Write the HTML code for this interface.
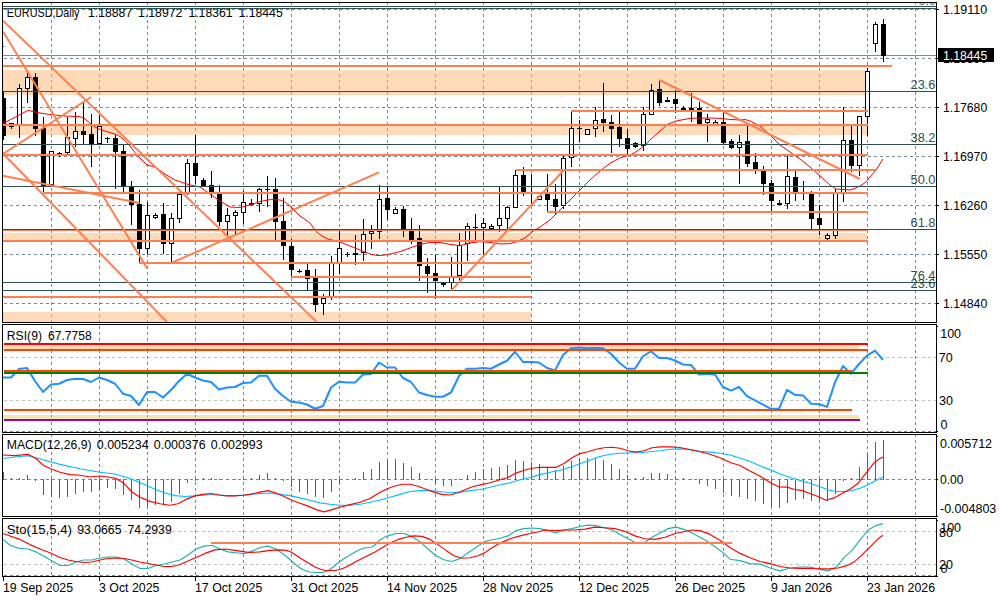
<!DOCTYPE html>
<html><head><meta charset="utf-8"><title>EURUSD Daily</title>
<style>
html,body{margin:0;padding:0;background:#fff;}
body{width:1000px;height:600px;overflow:hidden;}
svg{display:block;}
text{font-family:"Liberation Sans",sans-serif;}
</style></head><body>
<svg width="1000" height="600" viewBox="0 0 1000 600">
<rect width="1000" height="600" fill="#fff"/>
<g shape-rendering="crispEdges">
<rect x="3" y="70" width="862" height="24.5" fill="#FFDAB9" />
<rect x="3" y="126" width="864" height="9" fill="#FFDAB9" />
<rect x="3" y="233" width="864" height="7" fill="#FFDAB9" />
<rect x="3" y="312" width="528" height="10" fill="#FFDAB9" />
<line x1="51.5" y1="3" x2="51.5" y2="322" stroke="#778899" stroke-width="1" stroke-dasharray="3 3" stroke-dashoffset="1"/>
<line x1="51.5" y1="325" x2="51.5" y2="432" stroke="#778899" stroke-width="1" stroke-dasharray="3 3" stroke-dashoffset="5"/>
<line x1="51.5" y1="435" x2="51.5" y2="516" stroke="#778899" stroke-width="1" stroke-dasharray="3 3" stroke-dashoffset="1"/>
<line x1="51.5" y1="519" x2="51.5" y2="576" stroke="#778899" stroke-width="1" stroke-dasharray="3 3" stroke-dashoffset="1"/>
<line x1="99.5" y1="3" x2="99.5" y2="322" stroke="#778899" stroke-width="1" stroke-dasharray="3 3" stroke-dashoffset="1"/>
<line x1="99.5" y1="325" x2="99.5" y2="432" stroke="#778899" stroke-width="1" stroke-dasharray="3 3" stroke-dashoffset="5"/>
<line x1="99.5" y1="435" x2="99.5" y2="516" stroke="#778899" stroke-width="1" stroke-dasharray="3 3" stroke-dashoffset="1"/>
<line x1="99.5" y1="519" x2="99.5" y2="576" stroke="#778899" stroke-width="1" stroke-dasharray="3 3" stroke-dashoffset="1"/>
<line x1="147.5" y1="3" x2="147.5" y2="322" stroke="#778899" stroke-width="1" stroke-dasharray="3 3" stroke-dashoffset="1"/>
<line x1="147.5" y1="325" x2="147.5" y2="432" stroke="#778899" stroke-width="1" stroke-dasharray="3 3" stroke-dashoffset="5"/>
<line x1="147.5" y1="435" x2="147.5" y2="516" stroke="#778899" stroke-width="1" stroke-dasharray="3 3" stroke-dashoffset="1"/>
<line x1="147.5" y1="519" x2="147.5" y2="576" stroke="#778899" stroke-width="1" stroke-dasharray="3 3" stroke-dashoffset="1"/>
<line x1="195.5" y1="3" x2="195.5" y2="322" stroke="#778899" stroke-width="1" stroke-dasharray="3 3" stroke-dashoffset="1"/>
<line x1="195.5" y1="325" x2="195.5" y2="432" stroke="#778899" stroke-width="1" stroke-dasharray="3 3" stroke-dashoffset="5"/>
<line x1="195.5" y1="435" x2="195.5" y2="516" stroke="#778899" stroke-width="1" stroke-dasharray="3 3" stroke-dashoffset="1"/>
<line x1="195.5" y1="519" x2="195.5" y2="576" stroke="#778899" stroke-width="1" stroke-dasharray="3 3" stroke-dashoffset="1"/>
<line x1="243.5" y1="3" x2="243.5" y2="322" stroke="#778899" stroke-width="1" stroke-dasharray="3 3" stroke-dashoffset="1"/>
<line x1="243.5" y1="325" x2="243.5" y2="432" stroke="#778899" stroke-width="1" stroke-dasharray="3 3" stroke-dashoffset="5"/>
<line x1="243.5" y1="435" x2="243.5" y2="516" stroke="#778899" stroke-width="1" stroke-dasharray="3 3" stroke-dashoffset="1"/>
<line x1="243.5" y1="519" x2="243.5" y2="576" stroke="#778899" stroke-width="1" stroke-dasharray="3 3" stroke-dashoffset="1"/>
<line x1="291.5" y1="3" x2="291.5" y2="322" stroke="#778899" stroke-width="1" stroke-dasharray="3 3" stroke-dashoffset="1"/>
<line x1="291.5" y1="325" x2="291.5" y2="432" stroke="#778899" stroke-width="1" stroke-dasharray="3 3" stroke-dashoffset="5"/>
<line x1="291.5" y1="435" x2="291.5" y2="516" stroke="#778899" stroke-width="1" stroke-dasharray="3 3" stroke-dashoffset="1"/>
<line x1="291.5" y1="519" x2="291.5" y2="576" stroke="#778899" stroke-width="1" stroke-dasharray="3 3" stroke-dashoffset="1"/>
<line x1="339.5" y1="3" x2="339.5" y2="322" stroke="#778899" stroke-width="1" stroke-dasharray="3 3" stroke-dashoffset="1"/>
<line x1="339.5" y1="325" x2="339.5" y2="432" stroke="#778899" stroke-width="1" stroke-dasharray="3 3" stroke-dashoffset="5"/>
<line x1="339.5" y1="435" x2="339.5" y2="516" stroke="#778899" stroke-width="1" stroke-dasharray="3 3" stroke-dashoffset="1"/>
<line x1="339.5" y1="519" x2="339.5" y2="576" stroke="#778899" stroke-width="1" stroke-dasharray="3 3" stroke-dashoffset="1"/>
<line x1="387.5" y1="3" x2="387.5" y2="322" stroke="#778899" stroke-width="1" stroke-dasharray="3 3" stroke-dashoffset="1"/>
<line x1="387.5" y1="325" x2="387.5" y2="432" stroke="#778899" stroke-width="1" stroke-dasharray="3 3" stroke-dashoffset="5"/>
<line x1="387.5" y1="435" x2="387.5" y2="516" stroke="#778899" stroke-width="1" stroke-dasharray="3 3" stroke-dashoffset="1"/>
<line x1="387.5" y1="519" x2="387.5" y2="576" stroke="#778899" stroke-width="1" stroke-dasharray="3 3" stroke-dashoffset="1"/>
<line x1="435.5" y1="3" x2="435.5" y2="322" stroke="#778899" stroke-width="1" stroke-dasharray="3 3" stroke-dashoffset="1"/>
<line x1="435.5" y1="325" x2="435.5" y2="432" stroke="#778899" stroke-width="1" stroke-dasharray="3 3" stroke-dashoffset="5"/>
<line x1="435.5" y1="435" x2="435.5" y2="516" stroke="#778899" stroke-width="1" stroke-dasharray="3 3" stroke-dashoffset="1"/>
<line x1="435.5" y1="519" x2="435.5" y2="576" stroke="#778899" stroke-width="1" stroke-dasharray="3 3" stroke-dashoffset="1"/>
<line x1="483.5" y1="3" x2="483.5" y2="322" stroke="#778899" stroke-width="1" stroke-dasharray="3 3" stroke-dashoffset="1"/>
<line x1="483.5" y1="325" x2="483.5" y2="432" stroke="#778899" stroke-width="1" stroke-dasharray="3 3" stroke-dashoffset="5"/>
<line x1="483.5" y1="435" x2="483.5" y2="516" stroke="#778899" stroke-width="1" stroke-dasharray="3 3" stroke-dashoffset="1"/>
<line x1="483.5" y1="519" x2="483.5" y2="576" stroke="#778899" stroke-width="1" stroke-dasharray="3 3" stroke-dashoffset="1"/>
<line x1="531.5" y1="3" x2="531.5" y2="322" stroke="#778899" stroke-width="1" stroke-dasharray="3 3" stroke-dashoffset="1"/>
<line x1="531.5" y1="325" x2="531.5" y2="432" stroke="#778899" stroke-width="1" stroke-dasharray="3 3" stroke-dashoffset="5"/>
<line x1="531.5" y1="435" x2="531.5" y2="516" stroke="#778899" stroke-width="1" stroke-dasharray="3 3" stroke-dashoffset="1"/>
<line x1="531.5" y1="519" x2="531.5" y2="576" stroke="#778899" stroke-width="1" stroke-dasharray="3 3" stroke-dashoffset="1"/>
<line x1="579.5" y1="3" x2="579.5" y2="322" stroke="#778899" stroke-width="1" stroke-dasharray="3 3" stroke-dashoffset="1"/>
<line x1="579.5" y1="325" x2="579.5" y2="432" stroke="#778899" stroke-width="1" stroke-dasharray="3 3" stroke-dashoffset="5"/>
<line x1="579.5" y1="435" x2="579.5" y2="516" stroke="#778899" stroke-width="1" stroke-dasharray="3 3" stroke-dashoffset="1"/>
<line x1="579.5" y1="519" x2="579.5" y2="576" stroke="#778899" stroke-width="1" stroke-dasharray="3 3" stroke-dashoffset="1"/>
<line x1="627.5" y1="3" x2="627.5" y2="322" stroke="#778899" stroke-width="1" stroke-dasharray="3 3" stroke-dashoffset="1"/>
<line x1="627.5" y1="325" x2="627.5" y2="432" stroke="#778899" stroke-width="1" stroke-dasharray="3 3" stroke-dashoffset="5"/>
<line x1="627.5" y1="435" x2="627.5" y2="516" stroke="#778899" stroke-width="1" stroke-dasharray="3 3" stroke-dashoffset="1"/>
<line x1="627.5" y1="519" x2="627.5" y2="576" stroke="#778899" stroke-width="1" stroke-dasharray="3 3" stroke-dashoffset="1"/>
<line x1="675.5" y1="3" x2="675.5" y2="322" stroke="#778899" stroke-width="1" stroke-dasharray="3 3" stroke-dashoffset="1"/>
<line x1="675.5" y1="325" x2="675.5" y2="432" stroke="#778899" stroke-width="1" stroke-dasharray="3 3" stroke-dashoffset="5"/>
<line x1="675.5" y1="435" x2="675.5" y2="516" stroke="#778899" stroke-width="1" stroke-dasharray="3 3" stroke-dashoffset="1"/>
<line x1="675.5" y1="519" x2="675.5" y2="576" stroke="#778899" stroke-width="1" stroke-dasharray="3 3" stroke-dashoffset="1"/>
<line x1="723.5" y1="3" x2="723.5" y2="322" stroke="#778899" stroke-width="1" stroke-dasharray="3 3" stroke-dashoffset="1"/>
<line x1="723.5" y1="325" x2="723.5" y2="432" stroke="#778899" stroke-width="1" stroke-dasharray="3 3" stroke-dashoffset="5"/>
<line x1="723.5" y1="435" x2="723.5" y2="516" stroke="#778899" stroke-width="1" stroke-dasharray="3 3" stroke-dashoffset="1"/>
<line x1="723.5" y1="519" x2="723.5" y2="576" stroke="#778899" stroke-width="1" stroke-dasharray="3 3" stroke-dashoffset="1"/>
<line x1="771.5" y1="3" x2="771.5" y2="322" stroke="#778899" stroke-width="1" stroke-dasharray="3 3" stroke-dashoffset="1"/>
<line x1="771.5" y1="325" x2="771.5" y2="432" stroke="#778899" stroke-width="1" stroke-dasharray="3 3" stroke-dashoffset="5"/>
<line x1="771.5" y1="435" x2="771.5" y2="516" stroke="#778899" stroke-width="1" stroke-dasharray="3 3" stroke-dashoffset="1"/>
<line x1="771.5" y1="519" x2="771.5" y2="576" stroke="#778899" stroke-width="1" stroke-dasharray="3 3" stroke-dashoffset="1"/>
<line x1="819.5" y1="3" x2="819.5" y2="322" stroke="#778899" stroke-width="1" stroke-dasharray="3 3" stroke-dashoffset="1"/>
<line x1="819.5" y1="325" x2="819.5" y2="432" stroke="#778899" stroke-width="1" stroke-dasharray="3 3" stroke-dashoffset="5"/>
<line x1="819.5" y1="435" x2="819.5" y2="516" stroke="#778899" stroke-width="1" stroke-dasharray="3 3" stroke-dashoffset="1"/>
<line x1="819.5" y1="519" x2="819.5" y2="576" stroke="#778899" stroke-width="1" stroke-dasharray="3 3" stroke-dashoffset="1"/>
<line x1="867.5" y1="3" x2="867.5" y2="322" stroke="#778899" stroke-width="1" stroke-dasharray="3 3" stroke-dashoffset="1"/>
<line x1="867.5" y1="325" x2="867.5" y2="432" stroke="#778899" stroke-width="1" stroke-dasharray="3 3" stroke-dashoffset="5"/>
<line x1="867.5" y1="435" x2="867.5" y2="516" stroke="#778899" stroke-width="1" stroke-dasharray="3 3" stroke-dashoffset="1"/>
<line x1="867.5" y1="519" x2="867.5" y2="576" stroke="#778899" stroke-width="1" stroke-dasharray="3 3" stroke-dashoffset="1"/>
<line x1="915.5" y1="3" x2="915.5" y2="322" stroke="#778899" stroke-width="1" stroke-dasharray="3 3" stroke-dashoffset="1"/>
<line x1="915.5" y1="325" x2="915.5" y2="432" stroke="#778899" stroke-width="1" stroke-dasharray="3 3" stroke-dashoffset="5"/>
<line x1="915.5" y1="435" x2="915.5" y2="516" stroke="#778899" stroke-width="1" stroke-dasharray="3 3" stroke-dashoffset="1"/>
<line x1="915.5" y1="519" x2="915.5" y2="576" stroke="#778899" stroke-width="1" stroke-dasharray="3 3" stroke-dashoffset="1"/>
<line x1="3" y1="9.5" x2="936" y2="9.5" stroke="#778899" stroke-width="1" stroke-dasharray="3 3" stroke-dashoffset="5"/>
<line x1="3" y1="58.5" x2="936" y2="58.5" stroke="#778899" stroke-width="1" stroke-dasharray="3 3" stroke-dashoffset="5"/>
<line x1="3" y1="107.5" x2="936" y2="107.5" stroke="#778899" stroke-width="1" stroke-dasharray="3 3" stroke-dashoffset="5"/>
<line x1="3" y1="156.5" x2="936" y2="156.5" stroke="#778899" stroke-width="1" stroke-dasharray="3 3" stroke-dashoffset="5"/>
<line x1="3" y1="205.5" x2="936" y2="205.5" stroke="#778899" stroke-width="1" stroke-dasharray="3 3" stroke-dashoffset="5"/>
<line x1="3" y1="254.5" x2="936" y2="254.5" stroke="#778899" stroke-width="1" stroke-dasharray="3 3" stroke-dashoffset="5"/>
<line x1="3" y1="303.5" x2="936" y2="303.5" stroke="#778899" stroke-width="1" stroke-dasharray="3 3" stroke-dashoffset="5"/>
<line x1="51.5" y1="70" x2="51.5" y2="95" stroke="#77ADDF" stroke-width="1" stroke-dasharray="3 3" stroke-dashoffset="2"/>
<line x1="51.5" y1="126" x2="51.5" y2="135" stroke="#77ADDF" stroke-width="1" stroke-dasharray="3 3" stroke-dashoffset="4"/>
<line x1="51.5" y1="233" x2="51.5" y2="240" stroke="#77ADDF" stroke-width="1" stroke-dasharray="3 3" stroke-dashoffset="3"/>
<line x1="51.5" y1="312" x2="51.5" y2="322" stroke="#77ADDF" stroke-width="1" stroke-dasharray="3 3" stroke-dashoffset="4"/>
<line x1="99.5" y1="70" x2="99.5" y2="95" stroke="#77ADDF" stroke-width="1" stroke-dasharray="3 3" stroke-dashoffset="2"/>
<line x1="99.5" y1="126" x2="99.5" y2="135" stroke="#77ADDF" stroke-width="1" stroke-dasharray="3 3" stroke-dashoffset="4"/>
<line x1="99.5" y1="233" x2="99.5" y2="240" stroke="#77ADDF" stroke-width="1" stroke-dasharray="3 3" stroke-dashoffset="3"/>
<line x1="99.5" y1="312" x2="99.5" y2="322" stroke="#77ADDF" stroke-width="1" stroke-dasharray="3 3" stroke-dashoffset="4"/>
<line x1="147.5" y1="70" x2="147.5" y2="95" stroke="#77ADDF" stroke-width="1" stroke-dasharray="3 3" stroke-dashoffset="2"/>
<line x1="147.5" y1="126" x2="147.5" y2="135" stroke="#77ADDF" stroke-width="1" stroke-dasharray="3 3" stroke-dashoffset="4"/>
<line x1="147.5" y1="233" x2="147.5" y2="240" stroke="#77ADDF" stroke-width="1" stroke-dasharray="3 3" stroke-dashoffset="3"/>
<line x1="147.5" y1="312" x2="147.5" y2="322" stroke="#77ADDF" stroke-width="1" stroke-dasharray="3 3" stroke-dashoffset="4"/>
<line x1="195.5" y1="70" x2="195.5" y2="95" stroke="#77ADDF" stroke-width="1" stroke-dasharray="3 3" stroke-dashoffset="2"/>
<line x1="195.5" y1="126" x2="195.5" y2="135" stroke="#77ADDF" stroke-width="1" stroke-dasharray="3 3" stroke-dashoffset="4"/>
<line x1="195.5" y1="233" x2="195.5" y2="240" stroke="#77ADDF" stroke-width="1" stroke-dasharray="3 3" stroke-dashoffset="3"/>
<line x1="195.5" y1="312" x2="195.5" y2="322" stroke="#77ADDF" stroke-width="1" stroke-dasharray="3 3" stroke-dashoffset="4"/>
<line x1="243.5" y1="70" x2="243.5" y2="95" stroke="#77ADDF" stroke-width="1" stroke-dasharray="3 3" stroke-dashoffset="2"/>
<line x1="243.5" y1="126" x2="243.5" y2="135" stroke="#77ADDF" stroke-width="1" stroke-dasharray="3 3" stroke-dashoffset="4"/>
<line x1="243.5" y1="233" x2="243.5" y2="240" stroke="#77ADDF" stroke-width="1" stroke-dasharray="3 3" stroke-dashoffset="3"/>
<line x1="243.5" y1="312" x2="243.5" y2="322" stroke="#77ADDF" stroke-width="1" stroke-dasharray="3 3" stroke-dashoffset="4"/>
<line x1="291.5" y1="70" x2="291.5" y2="95" stroke="#77ADDF" stroke-width="1" stroke-dasharray="3 3" stroke-dashoffset="2"/>
<line x1="291.5" y1="126" x2="291.5" y2="135" stroke="#77ADDF" stroke-width="1" stroke-dasharray="3 3" stroke-dashoffset="4"/>
<line x1="291.5" y1="233" x2="291.5" y2="240" stroke="#77ADDF" stroke-width="1" stroke-dasharray="3 3" stroke-dashoffset="3"/>
<line x1="291.5" y1="312" x2="291.5" y2="322" stroke="#77ADDF" stroke-width="1" stroke-dasharray="3 3" stroke-dashoffset="4"/>
<line x1="339.5" y1="70" x2="339.5" y2="95" stroke="#77ADDF" stroke-width="1" stroke-dasharray="3 3" stroke-dashoffset="2"/>
<line x1="339.5" y1="126" x2="339.5" y2="135" stroke="#77ADDF" stroke-width="1" stroke-dasharray="3 3" stroke-dashoffset="4"/>
<line x1="339.5" y1="233" x2="339.5" y2="240" stroke="#77ADDF" stroke-width="1" stroke-dasharray="3 3" stroke-dashoffset="3"/>
<line x1="339.5" y1="312" x2="339.5" y2="322" stroke="#77ADDF" stroke-width="1" stroke-dasharray="3 3" stroke-dashoffset="4"/>
<line x1="387.5" y1="70" x2="387.5" y2="95" stroke="#77ADDF" stroke-width="1" stroke-dasharray="3 3" stroke-dashoffset="2"/>
<line x1="387.5" y1="126" x2="387.5" y2="135" stroke="#77ADDF" stroke-width="1" stroke-dasharray="3 3" stroke-dashoffset="4"/>
<line x1="387.5" y1="233" x2="387.5" y2="240" stroke="#77ADDF" stroke-width="1" stroke-dasharray="3 3" stroke-dashoffset="3"/>
<line x1="387.5" y1="312" x2="387.5" y2="322" stroke="#77ADDF" stroke-width="1" stroke-dasharray="3 3" stroke-dashoffset="4"/>
<line x1="435.5" y1="70" x2="435.5" y2="95" stroke="#77ADDF" stroke-width="1" stroke-dasharray="3 3" stroke-dashoffset="2"/>
<line x1="435.5" y1="126" x2="435.5" y2="135" stroke="#77ADDF" stroke-width="1" stroke-dasharray="3 3" stroke-dashoffset="4"/>
<line x1="435.5" y1="233" x2="435.5" y2="240" stroke="#77ADDF" stroke-width="1" stroke-dasharray="3 3" stroke-dashoffset="3"/>
<line x1="435.5" y1="312" x2="435.5" y2="322" stroke="#77ADDF" stroke-width="1" stroke-dasharray="3 3" stroke-dashoffset="4"/>
<line x1="483.5" y1="70" x2="483.5" y2="95" stroke="#77ADDF" stroke-width="1" stroke-dasharray="3 3" stroke-dashoffset="2"/>
<line x1="483.5" y1="126" x2="483.5" y2="135" stroke="#77ADDF" stroke-width="1" stroke-dasharray="3 3" stroke-dashoffset="4"/>
<line x1="483.5" y1="233" x2="483.5" y2="240" stroke="#77ADDF" stroke-width="1" stroke-dasharray="3 3" stroke-dashoffset="3"/>
<line x1="483.5" y1="312" x2="483.5" y2="322" stroke="#77ADDF" stroke-width="1" stroke-dasharray="3 3" stroke-dashoffset="4"/>
<line x1="531.5" y1="70" x2="531.5" y2="95" stroke="#77ADDF" stroke-width="1" stroke-dasharray="3 3" stroke-dashoffset="2"/>
<line x1="531.5" y1="126" x2="531.5" y2="135" stroke="#77ADDF" stroke-width="1" stroke-dasharray="3 3" stroke-dashoffset="4"/>
<line x1="531.5" y1="233" x2="531.5" y2="240" stroke="#77ADDF" stroke-width="1" stroke-dasharray="3 3" stroke-dashoffset="3"/>
<line x1="579.5" y1="70" x2="579.5" y2="95" stroke="#77ADDF" stroke-width="1" stroke-dasharray="3 3" stroke-dashoffset="2"/>
<line x1="579.5" y1="126" x2="579.5" y2="135" stroke="#77ADDF" stroke-width="1" stroke-dasharray="3 3" stroke-dashoffset="4"/>
<line x1="579.5" y1="233" x2="579.5" y2="240" stroke="#77ADDF" stroke-width="1" stroke-dasharray="3 3" stroke-dashoffset="3"/>
<line x1="627.5" y1="70" x2="627.5" y2="95" stroke="#77ADDF" stroke-width="1" stroke-dasharray="3 3" stroke-dashoffset="2"/>
<line x1="627.5" y1="126" x2="627.5" y2="135" stroke="#77ADDF" stroke-width="1" stroke-dasharray="3 3" stroke-dashoffset="4"/>
<line x1="627.5" y1="233" x2="627.5" y2="240" stroke="#77ADDF" stroke-width="1" stroke-dasharray="3 3" stroke-dashoffset="3"/>
<line x1="675.5" y1="70" x2="675.5" y2="95" stroke="#77ADDF" stroke-width="1" stroke-dasharray="3 3" stroke-dashoffset="2"/>
<line x1="675.5" y1="126" x2="675.5" y2="135" stroke="#77ADDF" stroke-width="1" stroke-dasharray="3 3" stroke-dashoffset="4"/>
<line x1="675.5" y1="233" x2="675.5" y2="240" stroke="#77ADDF" stroke-width="1" stroke-dasharray="3 3" stroke-dashoffset="3"/>
<line x1="723.5" y1="70" x2="723.5" y2="95" stroke="#77ADDF" stroke-width="1" stroke-dasharray="3 3" stroke-dashoffset="2"/>
<line x1="723.5" y1="126" x2="723.5" y2="135" stroke="#77ADDF" stroke-width="1" stroke-dasharray="3 3" stroke-dashoffset="4"/>
<line x1="723.5" y1="233" x2="723.5" y2="240" stroke="#77ADDF" stroke-width="1" stroke-dasharray="3 3" stroke-dashoffset="3"/>
<line x1="771.5" y1="70" x2="771.5" y2="95" stroke="#77ADDF" stroke-width="1" stroke-dasharray="3 3" stroke-dashoffset="2"/>
<line x1="771.5" y1="126" x2="771.5" y2="135" stroke="#77ADDF" stroke-width="1" stroke-dasharray="3 3" stroke-dashoffset="4"/>
<line x1="771.5" y1="233" x2="771.5" y2="240" stroke="#77ADDF" stroke-width="1" stroke-dasharray="3 3" stroke-dashoffset="3"/>
<line x1="819.5" y1="70" x2="819.5" y2="95" stroke="#77ADDF" stroke-width="1" stroke-dasharray="3 3" stroke-dashoffset="2"/>
<line x1="819.5" y1="126" x2="819.5" y2="135" stroke="#77ADDF" stroke-width="1" stroke-dasharray="3 3" stroke-dashoffset="4"/>
<line x1="819.5" y1="233" x2="819.5" y2="240" stroke="#77ADDF" stroke-width="1" stroke-dasharray="3 3" stroke-dashoffset="3"/>
<rect x="3" y="55" width="933" height="1" fill="#7B8DA0" />
<clipPath id="cm"><rect x="3" y="3" width="934" height="319"/></clipPath><g clip-path="url(#cm)">
<rect x="3" y="92" width="1" height="48" fill="#000" />
<rect x="1" y="98" width="5" height="38" fill="#000" />
<rect x="11" y="123" width="1" height="6" fill="#000" />
<rect x="9" y="123" width="5" height="4" fill="#000" />
<rect x="10" y="124" width="3" height="2" fill="#fff" />
<rect x="19" y="84" width="1" height="54" fill="#000" />
<rect x="17" y="88" width="5" height="38" fill="#000" />
<rect x="18" y="89" width="3" height="36" fill="#fff" />
<rect x="27" y="73" width="1" height="30" fill="#000" />
<rect x="25" y="77" width="5" height="12" fill="#000" />
<rect x="26" y="78" width="3" height="10" fill="#fff" />
<rect x="35" y="73" width="1" height="63" fill="#000" />
<rect x="33" y="77" width="5" height="52" fill="#000" />
<rect x="43" y="117" width="1" height="75" fill="#000" />
<rect x="41" y="128" width="5" height="58" fill="#000" />
<rect x="51" y="151" width="1" height="35" fill="#000" />
<rect x="49" y="151" width="5" height="34" fill="#000" />
<rect x="50" y="152" width="3" height="32" fill="#fff" />
<rect x="59" y="152" width="1" height="5" fill="#000" />
<rect x="57" y="153" width="5" height="2" fill="#000" />
<rect x="67" y="117" width="1" height="37" fill="#000" />
<rect x="65" y="137" width="5" height="16" fill="#000" />
<rect x="66" y="138" width="3" height="14" fill="#fff" />
<rect x="75" y="112" width="1" height="35" fill="#000" />
<rect x="73" y="131" width="5" height="8" fill="#000" />
<rect x="74" y="132" width="3" height="6" fill="#fff" />
<rect x="83" y="103" width="1" height="41" fill="#000" />
<rect x="81" y="131" width="5" height="4" fill="#000" />
<rect x="91" y="114" width="1" height="53" fill="#000" />
<rect x="89" y="134" width="5" height="10" fill="#000" />
<rect x="99" y="115" width="1" height="30" fill="#000" />
<rect x="97" y="126" width="5" height="18" fill="#000" />
<rect x="98" y="127" width="3" height="16" fill="#fff" />
<rect x="107" y="137" width="1" height="6" fill="#000" />
<rect x="105" y="138" width="5" height="1" fill="#000" />
<rect x="115" y="134" width="1" height="55" fill="#000" />
<rect x="113" y="138" width="5" height="14" fill="#000" />
<rect x="123" y="145" width="1" height="47" fill="#000" />
<rect x="121" y="151" width="5" height="36" fill="#000" />
<rect x="131" y="181" width="1" height="44" fill="#000" />
<rect x="129" y="187" width="5" height="18" fill="#000" />
<rect x="139" y="190" width="1" height="72" fill="#000" />
<rect x="137" y="204" width="5" height="45" fill="#000" />
<rect x="147" y="202" width="1" height="52" fill="#000" />
<rect x="145" y="215" width="5" height="34" fill="#000" />
<rect x="146" y="216" width="3" height="32" fill="#fff" />
<rect x="155" y="213" width="1" height="6" fill="#000" />
<rect x="153" y="215" width="5" height="3" fill="#000" />
<rect x="154" y="216" width="3" height="1" fill="#fff" />
<rect x="163" y="203" width="1" height="51" fill="#000" />
<rect x="161" y="214" width="5" height="30" fill="#000" />
<rect x="171" y="213" width="1" height="50" fill="#000" />
<rect x="169" y="218" width="5" height="26" fill="#000" />
<rect x="170" y="219" width="3" height="24" fill="#fff" />
<rect x="179" y="193" width="1" height="30" fill="#000" />
<rect x="177" y="194" width="5" height="25" fill="#000" />
<rect x="178" y="195" width="3" height="23" fill="#fff" />
<rect x="187" y="159" width="1" height="36" fill="#000" />
<rect x="185" y="163" width="5" height="30" fill="#000" />
<rect x="186" y="164" width="3" height="28" fill="#fff" />
<rect x="195" y="135" width="1" height="49" fill="#000" />
<rect x="193" y="163" width="5" height="13" fill="#000" />
<rect x="203" y="178" width="1" height="8" fill="#000" />
<rect x="201" y="180" width="5" height="6" fill="#000" />
<rect x="211" y="171" width="1" height="27" fill="#000" />
<rect x="209" y="185" width="5" height="7" fill="#000" />
<rect x="219" y="185" width="1" height="41" fill="#000" />
<rect x="217" y="194" width="5" height="28" fill="#000" />
<rect x="227" y="208" width="1" height="28" fill="#000" />
<rect x="225" y="215" width="5" height="7" fill="#000" />
<rect x="226" y="216" width="3" height="5" fill="#fff" />
<rect x="235" y="210" width="1" height="24" fill="#000" />
<rect x="233" y="212" width="5" height="4" fill="#000" />
<rect x="234" y="213" width="3" height="2" fill="#fff" />
<rect x="243" y="191" width="1" height="33" fill="#000" />
<rect x="241" y="202" width="5" height="11" fill="#000" />
<rect x="242" y="203" width="3" height="9" fill="#fff" />
<rect x="251" y="199" width="1" height="7" fill="#000" />
<rect x="249" y="203" width="5" height="2" fill="#000" />
<rect x="259" y="188" width="1" height="24" fill="#000" />
<rect x="257" y="189" width="5" height="15" fill="#000" />
<rect x="258" y="190" width="3" height="13" fill="#fff" />
<rect x="267" y="176" width="1" height="31" fill="#000" />
<rect x="265" y="189" width="5" height="1" fill="#000" />
<rect x="275" y="178" width="1" height="62" fill="#000" />
<rect x="273" y="189" width="5" height="33" fill="#000" />
<rect x="283" y="198" width="1" height="62" fill="#000" />
<rect x="281" y="221" width="5" height="25" fill="#000" />
<rect x="291" y="239" width="1" height="38" fill="#000" />
<rect x="289" y="246" width="5" height="24" fill="#000" />
<rect x="299" y="269" width="1" height="4" fill="#000" />
<rect x="297" y="271" width="5" height="1" fill="#000" />
<rect x="307" y="264" width="1" height="26" fill="#000" />
<rect x="305" y="270" width="5" height="9" fill="#000" />
<rect x="315" y="269" width="1" height="43" fill="#000" />
<rect x="313" y="278" width="5" height="27" fill="#000" />
<rect x="323" y="294" width="1" height="21" fill="#000" />
<rect x="321" y="298" width="5" height="6" fill="#000" />
<rect x="322" y="299" width="3" height="4" fill="#fff" />
<rect x="331" y="256" width="1" height="44" fill="#000" />
<rect x="329" y="263" width="5" height="34" fill="#000" />
<rect x="330" y="264" width="3" height="32" fill="#fff" />
<rect x="339" y="230" width="1" height="44" fill="#000" />
<rect x="337" y="248" width="5" height="15" fill="#000" />
<rect x="338" y="249" width="3" height="13" fill="#fff" />
<rect x="347" y="252" width="1" height="5" fill="#000" />
<rect x="345" y="254" width="5" height="1" fill="#000" />
<rect x="355" y="235" width="1" height="30" fill="#000" />
<rect x="353" y="253" width="5" height="2" fill="#000" />
<rect x="363" y="219" width="1" height="42" fill="#000" />
<rect x="361" y="234" width="5" height="19" fill="#000" />
<rect x="362" y="235" width="3" height="17" fill="#fff" />
<rect x="371" y="225" width="1" height="24" fill="#000" />
<rect x="369" y="231" width="5" height="3" fill="#000" />
<rect x="370" y="232" width="3" height="1" fill="#fff" />
<rect x="379" y="185" width="1" height="54" fill="#000" />
<rect x="377" y="199" width="5" height="33" fill="#000" />
<rect x="378" y="200" width="3" height="31" fill="#fff" />
<rect x="387" y="187" width="1" height="33" fill="#000" />
<rect x="385" y="198" width="5" height="12" fill="#000" />
<rect x="395" y="207" width="1" height="7" fill="#000" />
<rect x="393" y="209" width="5" height="5" fill="#000" />
<rect x="394" y="210" width="3" height="3" fill="#fff" />
<rect x="403" y="206" width="1" height="31" fill="#000" />
<rect x="401" y="209" width="5" height="20" fill="#000" />
<rect x="411" y="218" width="1" height="26" fill="#000" />
<rect x="409" y="231" width="5" height="9" fill="#000" />
<rect x="419" y="225" width="1" height="56" fill="#000" />
<rect x="417" y="238" width="5" height="28" fill="#000" />
<rect x="427" y="258" width="1" height="35" fill="#000" />
<rect x="425" y="266" width="5" height="8" fill="#000" />
<rect x="435" y="255" width="1" height="44" fill="#000" />
<rect x="433" y="273" width="5" height="8" fill="#000" />
<rect x="443" y="282" width="1" height="5" fill="#000" />
<rect x="441" y="283" width="5" height="2" fill="#000" />
<rect x="451" y="257" width="1" height="33" fill="#000" />
<rect x="449" y="276" width="5" height="7" fill="#000" />
<rect x="450" y="277" width="3" height="5" fill="#fff" />
<rect x="459" y="233" width="1" height="47" fill="#000" />
<rect x="457" y="245" width="5" height="31" fill="#000" />
<rect x="458" y="246" width="3" height="29" fill="#fff" />
<rect x="467" y="223" width="1" height="38" fill="#000" />
<rect x="465" y="226" width="5" height="18" fill="#000" />
<rect x="466" y="227" width="3" height="16" fill="#fff" />
<rect x="475" y="214" width="1" height="26" fill="#000" />
<rect x="473" y="227" width="5" height="1" fill="#000" />
<rect x="483" y="218" width="1" height="37" fill="#000" />
<rect x="481" y="223" width="5" height="5" fill="#000" />
<rect x="482" y="224" width="3" height="3" fill="#fff" />
<rect x="491" y="224" width="1" height="5" fill="#000" />
<rect x="489" y="226" width="5" height="3" fill="#000" />
<rect x="490" y="227" width="3" height="1" fill="#fff" />
<rect x="499" y="186" width="1" height="46" fill="#000" />
<rect x="497" y="218" width="5" height="8" fill="#000" />
<rect x="498" y="219" width="3" height="6" fill="#fff" />
<rect x="507" y="206" width="1" height="23" fill="#000" />
<rect x="505" y="207" width="5" height="12" fill="#000" />
<rect x="506" y="208" width="3" height="10" fill="#fff" />
<rect x="515" y="170" width="1" height="38" fill="#000" />
<rect x="513" y="175" width="5" height="33" fill="#000" />
<rect x="514" y="176" width="3" height="31" fill="#fff" />
<rect x="523" y="167" width="1" height="29" fill="#000" />
<rect x="521" y="175" width="5" height="17" fill="#000" />
<rect x="531" y="174" width="1" height="30" fill="#000" />
<rect x="529" y="193" width="5" height="1" fill="#000" />
<rect x="539" y="195" width="1" height="5" fill="#000" />
<rect x="537" y="196" width="5" height="4" fill="#000" />
<rect x="538" y="197" width="3" height="2" fill="#fff" />
<rect x="547" y="174" width="1" height="37" fill="#000" />
<rect x="545" y="193" width="5" height="7" fill="#000" />
<rect x="555" y="184" width="1" height="30" fill="#000" />
<rect x="553" y="199" width="5" height="8" fill="#000" />
<rect x="563" y="156" width="1" height="53" fill="#000" />
<rect x="561" y="158" width="5" height="48" fill="#000" />
<rect x="562" y="159" width="3" height="46" fill="#fff" />
<rect x="571" y="112" width="1" height="55" fill="#000" />
<rect x="569" y="128" width="5" height="30" fill="#000" />
<rect x="570" y="129" width="3" height="28" fill="#fff" />
<rect x="579" y="120" width="1" height="22" fill="#000" />
<rect x="577" y="128" width="5" height="1" fill="#000" />
<rect x="587" y="129" width="1" height="6" fill="#000" />
<rect x="585" y="129" width="5" height="6" fill="#000" />
<rect x="586" y="130" width="3" height="4" fill="#fff" />
<rect x="595" y="107" width="1" height="30" fill="#000" />
<rect x="593" y="120" width="5" height="9" fill="#000" />
<rect x="594" y="121" width="3" height="7" fill="#fff" />
<rect x="603" y="83" width="1" height="49" fill="#000" />
<rect x="601" y="119" width="5" height="4" fill="#000" />
<rect x="611" y="115" width="1" height="38" fill="#000" />
<rect x="609" y="122" width="5" height="7" fill="#000" />
<rect x="619" y="112" width="1" height="35" fill="#000" />
<rect x="617" y="127" width="5" height="12" fill="#000" />
<rect x="627" y="129" width="1" height="25" fill="#000" />
<rect x="625" y="138" width="5" height="11" fill="#000" />
<rect x="635" y="142" width="1" height="6" fill="#000" />
<rect x="633" y="143" width="5" height="4" fill="#000" />
<rect x="643" y="107" width="1" height="44" fill="#000" />
<rect x="641" y="114" width="5" height="32" fill="#000" />
<rect x="642" y="115" width="3" height="30" fill="#fff" />
<rect x="651" y="84" width="1" height="31" fill="#000" />
<rect x="649" y="90" width="5" height="25" fill="#000" />
<rect x="650" y="91" width="3" height="23" fill="#fff" />
<rect x="659" y="81" width="1" height="25" fill="#000" />
<rect x="657" y="89" width="5" height="14" fill="#000" />
<rect x="667" y="97" width="1" height="5" fill="#000" />
<rect x="665" y="100" width="5" height="2" fill="#000" />
<rect x="675" y="90" width="1" height="23" fill="#000" />
<rect x="673" y="99" width="5" height="5" fill="#000" />
<rect x="683" y="106" width="1" height="4" fill="#000" />
<rect x="681" y="108" width="5" height="2" fill="#000" />
<rect x="691" y="93" width="1" height="29" fill="#000" />
<rect x="689" y="108" width="5" height="2" fill="#000" />
<rect x="699" y="102" width="1" height="22" fill="#000" />
<rect x="697" y="108" width="5" height="16" fill="#000" />
<rect x="707" y="114" width="1" height="28" fill="#000" />
<rect x="705" y="119" width="5" height="4" fill="#000" />
<rect x="706" y="120" width="3" height="2" fill="#fff" />
<rect x="715" y="120" width="1" height="5" fill="#000" />
<rect x="713" y="122" width="5" height="3" fill="#000" />
<rect x="714" y="123" width="3" height="1" fill="#fff" />
<rect x="723" y="112" width="1" height="32" fill="#000" />
<rect x="721" y="122" width="5" height="21" fill="#000" />
<rect x="731" y="139" width="1" height="10" fill="#000" />
<rect x="729" y="141" width="5" height="7" fill="#000" />
<rect x="739" y="135" width="1" height="49" fill="#000" />
<rect x="737" y="142" width="5" height="6" fill="#000" />
<rect x="738" y="143" width="3" height="4" fill="#fff" />
<rect x="747" y="126" width="1" height="41" fill="#000" />
<rect x="745" y="141" width="5" height="23" fill="#000" />
<rect x="755" y="153" width="1" height="21" fill="#000" />
<rect x="753" y="162" width="5" height="9" fill="#000" />
<rect x="763" y="166" width="1" height="29" fill="#000" />
<rect x="761" y="170" width="5" height="14" fill="#000" />
<rect x="771" y="180" width="1" height="31" fill="#000" />
<rect x="769" y="183" width="5" height="18" fill="#000" />
<rect x="779" y="200" width="1" height="5" fill="#000" />
<rect x="777" y="203" width="5" height="2" fill="#000" />
<rect x="787" y="155" width="1" height="54" fill="#000" />
<rect x="785" y="176" width="5" height="28" fill="#000" />
<rect x="786" y="177" width="3" height="26" fill="#fff" />
<rect x="795" y="171" width="1" height="30" fill="#000" />
<rect x="793" y="177" width="5" height="15" fill="#000" />
<rect x="803" y="181" width="1" height="19" fill="#000" />
<rect x="801" y="192" width="5" height="1" fill="#000" />
<rect x="811" y="191" width="1" height="38" fill="#000" />
<rect x="809" y="193" width="5" height="26" fill="#000" />
<rect x="819" y="205" width="1" height="30" fill="#000" />
<rect x="817" y="218" width="5" height="7" fill="#000" />
<rect x="827" y="233" width="1" height="7" fill="#000" />
<rect x="825" y="235" width="5" height="4" fill="#000" />
<rect x="826" y="236" width="3" height="2" fill="#fff" />
<rect x="835" y="189" width="1" height="50" fill="#000" />
<rect x="833" y="192" width="5" height="44" fill="#000" />
<rect x="834" y="193" width="3" height="42" fill="#fff" />
<rect x="843" y="107" width="1" height="95" fill="#000" />
<rect x="841" y="140" width="5" height="54" fill="#000" />
<rect x="842" y="141" width="3" height="52" fill="#fff" />
<rect x="851" y="126" width="1" height="46" fill="#000" />
<rect x="849" y="140" width="5" height="26" fill="#000" />
<rect x="859" y="116" width="1" height="60" fill="#000" />
<rect x="857" y="116" width="5" height="50" fill="#000" />
<rect x="858" y="117" width="3" height="48" fill="#fff" />
<rect x="867" y="68" width="1" height="68" fill="#000" />
<rect x="865" y="71" width="5" height="46" fill="#000" />
<rect x="866" y="72" width="3" height="44" fill="#fff" />
<rect x="875" y="22" width="1" height="30" fill="#000" />
<rect x="873" y="24" width="5" height="20" fill="#000" />
<rect x="874" y="25" width="3" height="18" fill="#fff" />
<rect x="883" y="19" width="1" height="43" fill="#000" />
<rect x="881" y="24" width="5" height="32" fill="#000" />
</g></g>
<polyline points="2,124 28,110.4 40,113 50,114.5 65,116 80,116.7 84,118 88,121.5 92,125 96,127.5 100,129.5 108,132 115,134 120,136.5 125,140.5 130,146 135,152.5 140,158 147,165 155,167 165,174 175,180 190,185 200,187 210,194 220,201 230,207 240,207.5 250,205 260,201.6 270,199.6 280,200 285,202 290,206 300,216 310,223 316,231.5 322,236 328,239 333,240.3 340,242 350,246 360,250 370,254 378,255.6 385,255 390,254 400,251.6 410,248 420,244.4 430,242.4 440,242.5 450,244.4 460,245.6 470,243 480,241.6 490,242.4 500,244 510,243.6 517,241.6 525,238 532,232 540,227 550,220 560,210 570,200 580,190 590,180 600,171 605,167 610,163.5 615,160.5 620,158 625,156.3 630,155 635,152.5 640,149 645,145 650,140 660,131 668,124 676,121 690,118.4 700,118 710,118 720,118.4 730,119.4 740,120 745,119.5 750,121 760,126 770,135 780,145 790,152 800,159 810,167 820,176 830,185 836,189 842,189.4 850,190 855,188.4 860,186 866,182 870,177 876,170 883,159" fill="none" stroke="#FF0000" stroke-width="1" stroke-linejoin="round" />
<g shape-rendering="crispEdges">
<rect x="3" y="65" width="889" height="2" fill="#FF7F50" />
<rect x="571" y="110" width="297" height="2" fill="#FF7F50" />
<rect x="3" y="124" width="865" height="2" fill="#FF7F50" />
<rect x="3" y="154" width="865" height="2" fill="#FF7F50" />
<rect x="516" y="169" width="359" height="2" fill="#FF7F50" />
<rect x="43" y="192" width="825" height="2" fill="#FF7F50" />
<rect x="3" y="229" width="865" height="2" fill="#FF7F50" />
<rect x="547" y="211" width="321" height="2" fill="#FF7F50" />
<rect x="3" y="240" width="865" height="2" fill="#FF7F50" />
<rect x="139" y="262" width="392" height="2" fill="#FF7F50" />
<rect x="291" y="276" width="240" height="2" fill="#FF7F50" />
<rect x="3" y="296" width="528" height="2" fill="#FF7F50" />
<rect x="3" y="6" width="933" height="1" fill="#2F4F4F" />
<rect x="3" y="8" width="933" height="1" fill="#2F4F4F" />
<rect x="3" y="91" width="933" height="1" fill="#2F4F4F" />
<rect x="3" y="144" width="933" height="1" fill="#2F4F4F" />
<rect x="3" y="186" width="933" height="1" fill="#2F4F4F" />
<rect x="3" y="229" width="933" height="1" fill="#2F4F4F" />
<rect x="3" y="282" width="933" height="1" fill="#2F4F4F" />
<rect x="3" y="290" width="933" height="1" fill="#2F4F4F" />
</g>
<g clip-path="url(#cm)">
<line x1="3" y1="20.7" x2="316.4" y2="321.6" stroke="#FF7F50" stroke-width="2"/>
<line x1="3" y1="31.4" x2="147.2" y2="268.5" stroke="#FF7F50" stroke-width="2"/>
<line x1="2" y1="152.5" x2="167" y2="322" stroke="#FF7F50" stroke-width="2"/>
<line x1="2" y1="154.5" x2="91" y2="97" stroke="#FF7F50" stroke-width="2"/>
<line x1="2" y1="175.5" x2="139.4" y2="203" stroke="#FF7F50" stroke-width="2"/>
<line x1="172" y1="262.6" x2="379" y2="172.4" stroke="#FF7F50" stroke-width="2"/>
<line x1="451.4" y1="290.4" x2="564" y2="170" stroke="#FF7F50" stroke-width="2"/>
<line x1="659.4" y1="80" x2="860" y2="179" stroke="#FF7F50" stroke-width="2"/>
</g>
<text x="935.5" y="89.3" font-size="12.5" fill="#2F4F4F" text-anchor="end" textLength="25" lengthAdjust="spacingAndGlyphs" >23.6</text>
<text x="935.5" y="142.3" font-size="12.5" fill="#2F4F4F" text-anchor="end" textLength="25" lengthAdjust="spacingAndGlyphs" >38.2</text>
<text x="935.5" y="184.3" font-size="12.5" fill="#2F4F4F" text-anchor="end" textLength="25" lengthAdjust="spacingAndGlyphs" >50.0</text>
<text x="935.5" y="227.3" font-size="12.5" fill="#2F4F4F" text-anchor="end" textLength="25" lengthAdjust="spacingAndGlyphs" >61.8</text>
<text x="935.5" y="280.3" font-size="12.5" fill="#2F4F4F" text-anchor="end" textLength="25" lengthAdjust="spacingAndGlyphs" >76.4</text>
<text x="935.5" y="288.3" font-size="12.5" fill="#2F4F4F" text-anchor="end" textLength="25" lengthAdjust="spacingAndGlyphs" >23.6</text>
<clipPath id="c0"><rect x="900" y="3" width="37" height="3"/></clipPath>
<text x="936" y="5" font-size="12.5" fill="#2F4F4F" text-anchor="end" clip-path="url(#c0)">0.0</text>
<g shape-rendering="crispEdges">
<line x1="3" y1="357.5" x2="936" y2="357.5" stroke="#C0C0C0" stroke-width="1" stroke-dasharray="3 3" stroke-dashoffset="5"/>
<line x1="3" y1="400.5" x2="936" y2="400.5" stroke="#C0C0C0" stroke-width="1" stroke-dasharray="3 3" stroke-dashoffset="5"/>
<line x1="3" y1="431.5" x2="936" y2="431.5" stroke="#778899" stroke-width="1" stroke-dasharray="3 3" stroke-dashoffset="5"/>
<rect x="3" y="345" width="856" height="4" fill="#FFDAB9" />
<rect x="3" y="415" width="856" height="4" fill="#EEE8AA" />
<line x1="51.5" y1="345" x2="51.5" y2="349" stroke="#77ADDF" stroke-width="1" stroke-dasharray="3 3" stroke-dashoffset="3"/>
<line x1="51.5" y1="415" x2="51.5" y2="419" stroke="#669FCC" stroke-width="1" stroke-dasharray="3 3" stroke-dashoffset="1"/>
<line x1="99.5" y1="345" x2="99.5" y2="349" stroke="#77ADDF" stroke-width="1" stroke-dasharray="3 3" stroke-dashoffset="3"/>
<line x1="99.5" y1="415" x2="99.5" y2="419" stroke="#669FCC" stroke-width="1" stroke-dasharray="3 3" stroke-dashoffset="1"/>
<line x1="147.5" y1="345" x2="147.5" y2="349" stroke="#77ADDF" stroke-width="1" stroke-dasharray="3 3" stroke-dashoffset="3"/>
<line x1="147.5" y1="415" x2="147.5" y2="419" stroke="#669FCC" stroke-width="1" stroke-dasharray="3 3" stroke-dashoffset="1"/>
<line x1="195.5" y1="345" x2="195.5" y2="349" stroke="#77ADDF" stroke-width="1" stroke-dasharray="3 3" stroke-dashoffset="3"/>
<line x1="195.5" y1="415" x2="195.5" y2="419" stroke="#669FCC" stroke-width="1" stroke-dasharray="3 3" stroke-dashoffset="1"/>
<line x1="243.5" y1="345" x2="243.5" y2="349" stroke="#77ADDF" stroke-width="1" stroke-dasharray="3 3" stroke-dashoffset="3"/>
<line x1="243.5" y1="415" x2="243.5" y2="419" stroke="#669FCC" stroke-width="1" stroke-dasharray="3 3" stroke-dashoffset="1"/>
<line x1="291.5" y1="345" x2="291.5" y2="349" stroke="#77ADDF" stroke-width="1" stroke-dasharray="3 3" stroke-dashoffset="3"/>
<line x1="291.5" y1="415" x2="291.5" y2="419" stroke="#669FCC" stroke-width="1" stroke-dasharray="3 3" stroke-dashoffset="1"/>
<line x1="339.5" y1="345" x2="339.5" y2="349" stroke="#77ADDF" stroke-width="1" stroke-dasharray="3 3" stroke-dashoffset="3"/>
<line x1="339.5" y1="415" x2="339.5" y2="419" stroke="#669FCC" stroke-width="1" stroke-dasharray="3 3" stroke-dashoffset="1"/>
<line x1="387.5" y1="345" x2="387.5" y2="349" stroke="#77ADDF" stroke-width="1" stroke-dasharray="3 3" stroke-dashoffset="3"/>
<line x1="387.5" y1="415" x2="387.5" y2="419" stroke="#669FCC" stroke-width="1" stroke-dasharray="3 3" stroke-dashoffset="1"/>
<line x1="435.5" y1="345" x2="435.5" y2="349" stroke="#77ADDF" stroke-width="1" stroke-dasharray="3 3" stroke-dashoffset="3"/>
<line x1="435.5" y1="415" x2="435.5" y2="419" stroke="#669FCC" stroke-width="1" stroke-dasharray="3 3" stroke-dashoffset="1"/>
<line x1="483.5" y1="345" x2="483.5" y2="349" stroke="#77ADDF" stroke-width="1" stroke-dasharray="3 3" stroke-dashoffset="3"/>
<line x1="483.5" y1="415" x2="483.5" y2="419" stroke="#669FCC" stroke-width="1" stroke-dasharray="3 3" stroke-dashoffset="1"/>
<line x1="531.5" y1="345" x2="531.5" y2="349" stroke="#77ADDF" stroke-width="1" stroke-dasharray="3 3" stroke-dashoffset="3"/>
<line x1="531.5" y1="415" x2="531.5" y2="419" stroke="#669FCC" stroke-width="1" stroke-dasharray="3 3" stroke-dashoffset="1"/>
<line x1="579.5" y1="345" x2="579.5" y2="349" stroke="#77ADDF" stroke-width="1" stroke-dasharray="3 3" stroke-dashoffset="3"/>
<line x1="579.5" y1="415" x2="579.5" y2="419" stroke="#669FCC" stroke-width="1" stroke-dasharray="3 3" stroke-dashoffset="1"/>
<line x1="627.5" y1="345" x2="627.5" y2="349" stroke="#77ADDF" stroke-width="1" stroke-dasharray="3 3" stroke-dashoffset="3"/>
<line x1="627.5" y1="415" x2="627.5" y2="419" stroke="#669FCC" stroke-width="1" stroke-dasharray="3 3" stroke-dashoffset="1"/>
<line x1="675.5" y1="345" x2="675.5" y2="349" stroke="#77ADDF" stroke-width="1" stroke-dasharray="3 3" stroke-dashoffset="3"/>
<line x1="675.5" y1="415" x2="675.5" y2="419" stroke="#669FCC" stroke-width="1" stroke-dasharray="3 3" stroke-dashoffset="1"/>
<line x1="723.5" y1="345" x2="723.5" y2="349" stroke="#77ADDF" stroke-width="1" stroke-dasharray="3 3" stroke-dashoffset="3"/>
<line x1="723.5" y1="415" x2="723.5" y2="419" stroke="#669FCC" stroke-width="1" stroke-dasharray="3 3" stroke-dashoffset="1"/>
<line x1="771.5" y1="345" x2="771.5" y2="349" stroke="#77ADDF" stroke-width="1" stroke-dasharray="3 3" stroke-dashoffset="3"/>
<line x1="771.5" y1="415" x2="771.5" y2="419" stroke="#669FCC" stroke-width="1" stroke-dasharray="3 3" stroke-dashoffset="1"/>
<line x1="819.5" y1="345" x2="819.5" y2="349" stroke="#77ADDF" stroke-width="1" stroke-dasharray="3 3" stroke-dashoffset="3"/>
<line x1="819.5" y1="415" x2="819.5" y2="419" stroke="#669FCC" stroke-width="1" stroke-dasharray="3 3" stroke-dashoffset="1"/>
</g>
<polyline points="3,377.5 11,377.5 19,369 27,368 35,381 43,392 51,384.5 59,383.75 67,380 75,378.75 83,379 91,382 99,377.5 107,380 115,383.75 123,393.75 131,396 139,405 147,392 155,392 163,397.5 171,390 179,381 187,373.75 195,377.5 203,380.5 211,382 219,389.5 227,387.5 235,387 243,383 251,382.5 259,375.75 267,375.75 275,388.75 283,396 291,401.75 299,402.5 307,404.5 315,408.75 323,406 331,387.5 339,381.75 347,382.5 355,382.5 363,374.5 371,374 379,362.5 387,367.5 395,367.5 403,378 411,382 419,392.5 427,395 435,396.75 443,396.75 451,392.5 459,376 467,368.75 475,368.75 483,368 491,368.75 499,364.5 507,360.75 515,351.75 523,362 531,362 539,362.5 547,368 555,370.5 563,355 571,348.25 579,347.5 587,348.25 595,348 603,348.25 611,353.75 619,362.5 627,368.75 635,368.75 643,356.25 651,351.25 659,358 667,358 675,360.5 683,364.5 691,365 699,374.5 707,373.75 715,374.5 723,387 731,390.6 739,387 747,396.2 755,400.4 763,404.6 771,408.8 779,408.8 787,389.8 795,394.8 803,395.4 811,403.8 819,404 827,406.9 835,382.2 843,366 851,373.8 859,364 867,355.6 875,350.6 883,359.8" fill="none" stroke="#1E90FF" stroke-width="2" stroke-linejoin="round" />
<g shape-rendering="crispEdges">
<rect x="4" y="343" width="864" height="2" fill="#FF0000" />
<rect x="4" y="349" width="864" height="2" fill="#FF4500" />
<rect x="4" y="372" width="864" height="2" fill="#008000" />
<rect x="4" y="370" width="848" height="2" fill="#FF4500" />
<rect x="4" y="409" width="848" height="2" fill="#FF4500" />
<rect x="4" y="419" width="856" height="2" fill="#9400D3" />
</g>
<g shape-rendering="crispEdges">
<line x1="3" y1="479.5" x2="936" y2="479.5" stroke="#778899" stroke-width="1" stroke-dasharray="3 3" stroke-dashoffset="5"/>
<rect x="3" y="472" width="1" height="8" fill="#556B2F" />
<rect x="11" y="478" width="1" height="2" fill="#556B2F" />
<rect x="19" y="478" width="1" height="2" fill="#556B2F" />
<rect x="27" y="475" width="1" height="5" fill="#556B2F" />
<rect x="35" y="479" width="1" height="2" fill="#556B2F" />
<rect x="43" y="479" width="1" height="16" fill="#556B2F" />
<rect x="51" y="479" width="1" height="18" fill="#556B2F" />
<rect x="59" y="479" width="1" height="19" fill="#556B2F" />
<rect x="67" y="479" width="1" height="18" fill="#556B2F" />
<rect x="75" y="479" width="1" height="15" fill="#556B2F" />
<rect x="83" y="479" width="1" height="13" fill="#556B2F" />
<rect x="91" y="479" width="1" height="13" fill="#556B2F" />
<rect x="99" y="479" width="1" height="11" fill="#556B2F" />
<rect x="107" y="479" width="1" height="9" fill="#556B2F" />
<rect x="115" y="479" width="1" height="10" fill="#556B2F" />
<rect x="123" y="479" width="1" height="16" fill="#556B2F" />
<rect x="131" y="479" width="1" height="21" fill="#556B2F" />
<rect x="139" y="479" width="1" height="29" fill="#556B2F" />
<rect x="147" y="479" width="1" height="28" fill="#556B2F" />
<rect x="155" y="479" width="1" height="26" fill="#556B2F" />
<rect x="163" y="479" width="1" height="26" fill="#556B2F" />
<rect x="171" y="479" width="1" height="23" fill="#556B2F" />
<rect x="179" y="479" width="1" height="15" fill="#556B2F" />
<rect x="187" y="479" width="1" height="4" fill="#556B2F" />
<rect x="195" y="479" width="1" height="2" fill="#556B2F" />
<rect x="203" y="478" width="1" height="2" fill="#556B2F" />
<rect x="211" y="478" width="1" height="2" fill="#556B2F" />
<rect x="219" y="479" width="1" height="1" fill="#556B2F" />
<rect x="227" y="479" width="1" height="1" fill="#556B2F" />
<rect x="235" y="479" width="1" height="1" fill="#556B2F" />
<rect x="243" y="479" width="1" height="1" fill="#556B2F" />
<rect x="251" y="478" width="1" height="2" fill="#556B2F" />
<rect x="259" y="475" width="1" height="5" fill="#556B2F" />
<rect x="267" y="473" width="1" height="7" fill="#556B2F" />
<rect x="275" y="478" width="1" height="2" fill="#556B2F" />
<rect x="283" y="479" width="1" height="2" fill="#556B2F" />
<rect x="291" y="479" width="1" height="8" fill="#556B2F" />
<rect x="299" y="479" width="1" height="13" fill="#556B2F" />
<rect x="307" y="479" width="1" height="15" fill="#556B2F" />
<rect x="315" y="479" width="1" height="18" fill="#556B2F" />
<rect x="323" y="479" width="1" height="19" fill="#556B2F" />
<rect x="331" y="479" width="1" height="13" fill="#556B2F" />
<rect x="339" y="479" width="1" height="5" fill="#556B2F" />
<rect x="347" y="479" width="1" height="1" fill="#556B2F" />
<rect x="355" y="478" width="1" height="2" fill="#556B2F" />
<rect x="363" y="472" width="1" height="8" fill="#556B2F" />
<rect x="371" y="469" width="1" height="11" fill="#556B2F" />
<rect x="379" y="462" width="1" height="18" fill="#556B2F" />
<rect x="387" y="460" width="1" height="20" fill="#556B2F" />
<rect x="395" y="459" width="1" height="21" fill="#556B2F" />
<rect x="403" y="463" width="1" height="17" fill="#556B2F" />
<rect x="411" y="467" width="1" height="13" fill="#556B2F" />
<rect x="419" y="473" width="1" height="7" fill="#556B2F" />
<rect x="427" y="479" width="1" height="1" fill="#556B2F" />
<rect x="435" y="479" width="1" height="5" fill="#556B2F" />
<rect x="443" y="479" width="1" height="7" fill="#556B2F" />
<rect x="451" y="479" width="1" height="7" fill="#556B2F" />
<rect x="459" y="479" width="1" height="1" fill="#556B2F" />
<rect x="467" y="475" width="1" height="5" fill="#556B2F" />
<rect x="475" y="472" width="1" height="8" fill="#556B2F" />
<rect x="483" y="469" width="1" height="11" fill="#556B2F" />
<rect x="491" y="468" width="1" height="12" fill="#556B2F" />
<rect x="499" y="467" width="1" height="13" fill="#556B2F" />
<rect x="507" y="465" width="1" height="15" fill="#556B2F" />
<rect x="515" y="460" width="1" height="20" fill="#556B2F" />
<rect x="523" y="461" width="1" height="19" fill="#556B2F" />
<rect x="531" y="462" width="1" height="18" fill="#556B2F" />
<rect x="539" y="464" width="1" height="16" fill="#556B2F" />
<rect x="547" y="467" width="1" height="13" fill="#556B2F" />
<rect x="555" y="470" width="1" height="10" fill="#556B2F" />
<rect x="563" y="466" width="1" height="14" fill="#556B2F" />
<rect x="571" y="461" width="1" height="19" fill="#556B2F" />
<rect x="579" y="458" width="1" height="22" fill="#556B2F" />
<rect x="587" y="458" width="1" height="22" fill="#556B2F" />
<rect x="595" y="458" width="1" height="22" fill="#556B2F" />
<rect x="603" y="460" width="1" height="20" fill="#556B2F" />
<rect x="611" y="464" width="1" height="16" fill="#556B2F" />
<rect x="619" y="469" width="1" height="11" fill="#556B2F" />
<rect x="627" y="475" width="1" height="5" fill="#556B2F" />
<rect x="635" y="478" width="1" height="2" fill="#556B2F" />
<rect x="643" y="477" width="1" height="3" fill="#556B2F" />
<rect x="651" y="473" width="1" height="7" fill="#556B2F" />
<rect x="659" y="473" width="1" height="7" fill="#556B2F" />
<rect x="667" y="474" width="1" height="6" fill="#556B2F" />
<rect x="675" y="477" width="1" height="3" fill="#556B2F" />
<rect x="683" y="478" width="1" height="2" fill="#556B2F" />
<rect x="691" y="479" width="1" height="1" fill="#556B2F" />
<rect x="699" y="479" width="1" height="5" fill="#556B2F" />
<rect x="707" y="479" width="1" height="7" fill="#556B2F" />
<rect x="715" y="479" width="1" height="10" fill="#556B2F" />
<rect x="723" y="479" width="1" height="14" fill="#556B2F" />
<rect x="731" y="479" width="1" height="17" fill="#556B2F" />
<rect x="739" y="479" width="1" height="18" fill="#556B2F" />
<rect x="747" y="479" width="1" height="20" fill="#556B2F" />
<rect x="755" y="479" width="1" height="22" fill="#556B2F" />
<rect x="763" y="479" width="1" height="25" fill="#556B2F" />
<rect x="771" y="479" width="1" height="28" fill="#556B2F" />
<rect x="779" y="479" width="1" height="29" fill="#556B2F" />
<rect x="787" y="479" width="1" height="24" fill="#556B2F" />
<rect x="795" y="479" width="1" height="21" fill="#556B2F" />
<rect x="803" y="479" width="1" height="20" fill="#556B2F" />
<rect x="811" y="479" width="1" height="22" fill="#556B2F" />
<rect x="819" y="479" width="1" height="22" fill="#556B2F" />
<rect x="827" y="479" width="1" height="22" fill="#556B2F" />
<rect x="835" y="479" width="1" height="15" fill="#556B2F" />
<rect x="843" y="479" width="1" height="2" fill="#556B2F" />
<rect x="851" y="478" width="1" height="2" fill="#556B2F" />
<rect x="859" y="467" width="1" height="13" fill="#556B2F" />
<rect x="867" y="454" width="1" height="26" fill="#556B2F" />
<rect x="875" y="442" width="1" height="38" fill="#556B2F" />
<rect x="883" y="440" width="1" height="40" fill="#556B2F" />
</g>
<polyline points="3,458.5 15,457 28,455.6 36,457.7 44,460 60,464.4 80,468.8 100,472.3 115,474 125,477 135,480.4 145,484.8 155,489.2 165,493 175,495.6 185,496.5 195,495.9 205,495 215,494.5 225,495.6 235,495.6 245,495 250,494.5 260,493.5 270,493 280,494.4 290,495.6 300,497.9 310,500.3 320,502.9 330,504.3 340,505.2 350,505.2 360,504.3 370,502.3 380,500 390,497.3 400,494.4 410,491.5 420,490.6 430,490.6 440,491.5 450,492.7 460,492.1 470,490.6 480,489.5 490,487.2 500,484.8 510,482.8 520,479.8 530,477.5 540,474.6 550,472.3 560,470.2 570,467.3 580,463.8 590,460 600,456.5 610,454.2 620,453.3 630,452.7 640,452.7 650,451.8 660,450.7 670,449.2 680,448.9 690,449.2 700,451.3 710,452.1 720,453.3 730,455 740,458 750,461.5 760,465.8 770,469.6 780,474 790,477.5 800,480.4 810,483.3 820,486.8 828,489.8 836,491.5 844,491.5 852,490.6 860,488.3 868,484.8 876,480.4 883,476.9" fill="none" stroke="#00BFFF" stroke-width="1.15" stroke-linejoin="round" />
<polyline points="3,455 15,455.6 28,454.2 36,458.5 44,465.8 52,469.3 60,472.3 70,474.6 80,475.2 90,477 100,476 108,477 116,478.4 124,483.3 132,492 140,497.3 150,501.4 160,503.8 170,505.2 178,503.8 186,499.4 195,495.9 203,494.4 211,493.5 219,495 227,495.9 235,495.9 243,495.2 250,494.4 260,492.1 268,490.6 276,493 284,496.5 292,500.3 300,503.2 308,506.1 316,509.6 324,511.9 332,509.6 340,507.3 350,504.6 360,502.3 370,498.5 378,493.5 386,489.2 394,486.3 402,484.2 410,484.2 418,486.3 426,489.2 434,492.1 442,494.4 450,495 458,492.7 466,489.2 474,486.3 482,484.6 490,482.8 500,479.8 508,477.5 516,473.1 524,470.2 532,468.2 540,467.3 548,467.3 556,467.3 564,463.5 572,457.7 580,453.6 588,451.8 596,449.2 604,447.8 612,447.2 620,448.3 628,450.7 636,452.1 644,450.7 652,447.8 660,446.9 670,446.9 680,447.5 690,449.8 700,451.8 710,454.2 720,457.7 731,462.8 740,465.5 750,471 756,474 763,478 771,483 779,487 787,487.1 794,489.2 802,490.6 810,493.5 818,496.5 826,500.3 834,497.9 842,493.5 850,489.2 858,483.3 866,473.1 874,462.9 880,458.5 883,457" fill="none" stroke="#FF0000" stroke-width="1.15" stroke-linejoin="round" />
<g shape-rendering="crispEdges">
<line x1="3" y1="531.5" x2="936" y2="531.5" stroke="#C0C0C0" stroke-width="1" stroke-dasharray="3 3" stroke-dashoffset="5"/>
<line x1="3" y1="564.5" x2="936" y2="564.5" stroke="#C0C0C0" stroke-width="1" stroke-dasharray="3 3" stroke-dashoffset="5"/>
<line x1="3" y1="575.5" x2="936" y2="575.5" stroke="#778899" stroke-width="1" stroke-dasharray="3 3" stroke-dashoffset="5"/>
</g>
<polyline points="3,539.4 10,545.2 18,548.1 28,549 36,551.9 44,556.3 52,561 60,565.5 68,565.5 76,562 84,560 92,560 100,558 108,557 116,557 124,559 132,564 140,568.5 148,568.5 156,565.5 164,564 172,562 180,560 188,555 196,549 204,546.1 212,545.2 220,549 228,551.9 236,552.8 244,553.6 250,551.9 260,547.5 268,546.1 276,549 284,554.8 290,559.5 295,564 300,568 305,570.5 310,572 316,572.5 322,572.5 326,571.5 330,569.5 335,565.5 340,561.5 345,558 350,555 355,552 360,549.5 365,548 372,547 376,544 380,540 385,537 388,535.9 396,533.5 404,533.5 412,536.4 420,541.7 428,549 436,555.7 444,559.8 452,561.5 460,558.6 468,552.8 476,547.5 484,541.9 490,540.2 500,538.2 508,535.9 516,530.6 524,528.6 532,528 540,528.6 548,530.6 556,532.9 564,530 572,528.6 580,526.5 588,525.1 596,525.6 604,527.7 612,530 620,534.4 628,538.8 636,543 644,543 652,537.3 660,532.9 668,528.6 676,527.1 684,529.4 692,532.9 700,537.3 708,541.7 716,547.5 724,553.4 730,559.2 740,560.6 750,563.6 760,564.1 770,568 780,570.9 790,568 800,567.1 810,567.1 820,569.4 828,570.9 836,567.4 844,557.7 852,550.4 860,540.2 868,530 876,525.6 883,523.6" fill="none" stroke="#20B2AA" stroke-width="1.15" stroke-linejoin="round" />
<polyline points="3,533.5 10,536 20,539.4 30,544.6 40,549 50,552.8 60,557.5 68,560 76,561.5 84,562.5 92,562 100,560 108,558.5 116,558 124,558.5 132,560 140,562 148,563.5 156,565 164,566.5 172,566.5 180,564.5 188,561 196,557.5 205,553.4 215,549.9 225,549 235,550.4 245,551.9 250,552.5 260,551.9 270,550.4 280,549.9 286,550.4 290,551.5 295,554.5 300,558 305,561 310,564 315,567 320,569 325,570.5 335,570.5 340,569.5 345,567.5 350,565 355,562 360,559.5 365,557 370,554.5 375,552 380,549 385,546 390,543.1 398,539.4 406,537.3 414,535.9 422,536.4 430,539.4 438,544.6 446,550.4 454,555.7 462,558.3 470,557.7 478,555.7 486,551.9 490,549 500,543.1 510,538.8 520,535.9 530,533.5 540,531.5 545,530 555,530.6 565,530 575,530 585,529.1 595,527.1 605,527.7 615,528.6 625,531.5 635,535.9 645,538.8 655,539.4 665,537.3 675,533.5 685,531.5 692,530 700,530.6 710,534.4 720,540.2 730,547.5 740,553.4 750,557.7 760,561.5 770,563.6 780,566.5 790,568 800,568.5 810,568.5 820,568.8 830,568.8 838,568 846,565.9 854,562.1 862,554.8 870,546.9 878,538.8 883,535.3" fill="none" stroke="#FF0000" stroke-width="1.15" stroke-linejoin="round" />
<g shape-rendering="crispEdges">
<rect x="211" y="542" width="521" height="2" fill="#FF7F50" />
<rect x="2" y="2" width="935" height="1" fill="#000" />
<rect x="2" y="322" width="935" height="1" fill="#000" />
<rect x="2" y="2" width="1" height="321" fill="#000" />
<rect x="936" y="2" width="1" height="321" fill="#000" />
<rect x="2" y="324" width="935" height="1" fill="#000" />
<rect x="2" y="432" width="935" height="1" fill="#000" />
<rect x="2" y="324" width="1" height="109" fill="#000" />
<rect x="936" y="324" width="1" height="109" fill="#000" />
<rect x="2" y="434" width="935" height="1" fill="#000" />
<rect x="2" y="516" width="935" height="1" fill="#000" />
<rect x="2" y="434" width="1" height="83" fill="#000" />
<rect x="936" y="434" width="1" height="83" fill="#000" />
<rect x="2" y="518" width="935" height="1" fill="#000" />
<rect x="2" y="576" width="935" height="1" fill="#000" />
<rect x="2" y="518" width="1" height="59" fill="#000" />
<rect x="936" y="518" width="1" height="59" fill="#000" />
<rect x="937" y="9" width="2" height="1" fill="#000" />
<rect x="937" y="58" width="2" height="1" fill="#000" />
<rect x="937" y="107" width="2" height="1" fill="#000" />
<rect x="937" y="156" width="2" height="1" fill="#000" />
<rect x="937" y="205" width="2" height="1" fill="#000" />
<rect x="937" y="254" width="2" height="1" fill="#000" />
<rect x="937" y="303" width="2" height="1" fill="#000" />
<rect x="937" y="326" width="1" height="1" fill="#000" />
<rect x="937" y="431" width="1" height="1" fill="#000" />
<rect x="937" y="436" width="1" height="1" fill="#000" />
<rect x="937" y="479" width="1" height="1" fill="#000" />
<rect x="937" y="516" width="1" height="1" fill="#000" />
<rect x="937" y="520" width="1" height="1" fill="#000" />
<rect x="937" y="576" width="1" height="1" fill="#000" />
<rect x="3" y="577" width="1" height="4" fill="#000" />
<rect x="99" y="577" width="1" height="4" fill="#000" />
<rect x="195" y="577" width="1" height="4" fill="#000" />
<rect x="291" y="577" width="1" height="4" fill="#000" />
<rect x="387" y="577" width="1" height="4" fill="#000" />
<rect x="483" y="577" width="1" height="4" fill="#000" />
<rect x="579" y="577" width="1" height="4" fill="#000" />
<rect x="675" y="577" width="1" height="4" fill="#000" />
<rect x="771" y="577" width="1" height="4" fill="#000" />
<rect x="867" y="577" width="1" height="4" fill="#000" />
<rect x="3" y="46" width="1" height="1" fill="#8B3A00" />
</g>
<text x="943" y="62.8" font-size="12.5" fill="#000" text-anchor="start" textLength="44.2" lengthAdjust="spacingAndGlyphs" >1.18390</text>
<g shape-rendering="crispEdges">
<rect x="938" y="48" width="56" height="14" fill="#000" />
</g>
<clipPath id="ct"><rect x="3" y="9" width="400" height="20"/></clipPath><g clip-path="url(#ct)">
<text x="6.8" y="17" font-size="12.5" fill="#000" text-anchor="start" textLength="72.7" lengthAdjust="spacingAndGlyphs" >EURUSD,Daily</text>
<text x="88" y="17" font-size="12.5" fill="#000" text-anchor="start" textLength="44.2" lengthAdjust="spacingAndGlyphs" >1.18887</text>
<text x="138" y="17" font-size="12.5" fill="#000" text-anchor="start" textLength="44.4" lengthAdjust="spacingAndGlyphs" >1.18972</text>
<text x="188.4" y="17" font-size="12.5" fill="#000" text-anchor="start" textLength="44.2" lengthAdjust="spacingAndGlyphs" >1.18361</text>
<text x="238.5" y="17" font-size="12.5" fill="#000" text-anchor="start" textLength="44.2" lengthAdjust="spacingAndGlyphs" >1.18445</text>
</g>
<text x="943" y="13.8" font-size="12.5" fill="#000" text-anchor="start" textLength="44.2" lengthAdjust="spacingAndGlyphs" >1.19110</text>
<text x="943" y="112.3" font-size="12.5" fill="#000" text-anchor="start" textLength="44.2" lengthAdjust="spacingAndGlyphs" >1.17680</text>
<text x="943" y="161.3" font-size="12.5" fill="#000" text-anchor="start" textLength="44.2" lengthAdjust="spacingAndGlyphs" >1.16970</text>
<text x="943" y="210.3" font-size="12.5" fill="#000" text-anchor="start" textLength="44.2" lengthAdjust="spacingAndGlyphs" >1.16260</text>
<text x="943" y="259.3" font-size="12.5" fill="#000" text-anchor="start" textLength="44.2" lengthAdjust="spacingAndGlyphs" >1.15550</text>
<text x="943" y="308.3" font-size="12.5" fill="#000" text-anchor="start" textLength="44.2" lengthAdjust="spacingAndGlyphs" >1.14840</text>
<text x="943" y="59.7" font-size="12.5" fill="#fff" text-anchor="start" textLength="44.2" lengthAdjust="spacingAndGlyphs" >1.18445</text>
<text x="6.8" y="340" font-size="12.5" fill="#000" text-anchor="start" textLength="35.2" lengthAdjust="spacingAndGlyphs" >RSI(9)</text>
<text x="48" y="340" font-size="12.5" fill="#000" text-anchor="start" textLength="43.7" lengthAdjust="spacingAndGlyphs" >67.7758</text>
<text x="940.2" y="338.3" font-size="12.5" fill="#000" text-anchor="start" >100</text>
<text x="938.8" y="362.3" font-size="12.5" fill="#000" text-anchor="start" >70</text>
<text x="939" y="404.8" font-size="12.5" fill="#000" text-anchor="start" >30</text>
<text x="940.5" y="429.3" font-size="12.5" fill="#000" text-anchor="start" >0</text>
<text x="6.8" y="449" font-size="12.5" fill="#000" text-anchor="start" textLength="84.7" lengthAdjust="spacingAndGlyphs" >MACD(12,26,9)</text>
<text x="96.8" y="449" font-size="12.5" fill="#000" text-anchor="start" textLength="51.8" lengthAdjust="spacingAndGlyphs" >0.005234</text>
<text x="153.8" y="449" font-size="12.5" fill="#000" text-anchor="start" textLength="51.8" lengthAdjust="spacingAndGlyphs" >0.000376</text>
<text x="210.8" y="449" font-size="12.5" fill="#000" text-anchor="start" textLength="51.8" lengthAdjust="spacingAndGlyphs" >0.002993</text>
<text x="940" y="448.3" font-size="12.5" fill="#000" text-anchor="start" textLength="52" lengthAdjust="spacingAndGlyphs" >0.005712</text>
<text x="940" y="483.8" font-size="12.5" fill="#000" text-anchor="start" textLength="23.6" lengthAdjust="spacingAndGlyphs" >0.00</text>
<text x="940" y="513.3" font-size="12.5" fill="#000" text-anchor="start" textLength="56.3" lengthAdjust="spacingAndGlyphs" >-0.004803</text>
<text x="6.8" y="533.5" font-size="12.5" fill="#000" text-anchor="start" textLength="65.2" lengthAdjust="spacingAndGlyphs" >Sto(15,5,4)</text>
<text x="77.2" y="533.5" font-size="12.5" fill="#000" text-anchor="start" textLength="44.3" lengthAdjust="spacingAndGlyphs" >93.0665</text>
<text x="127.5" y="533.5" font-size="12.5" fill="#000" text-anchor="start" textLength="44.2" lengthAdjust="spacingAndGlyphs" >74.2939</text>
<text x="940.2" y="531.8" font-size="12.5" fill="#000" text-anchor="start" >100</text>
<text x="939" y="536.8" font-size="12.5" fill="#000" text-anchor="start" >80</text>
<text x="939" y="568.7" font-size="12.5" fill="#000" text-anchor="start" >20</text>
<text x="940.5" y="573.3" font-size="12.5" fill="#000" text-anchor="start" >0</text>
<text x="3" y="592" font-size="12.5" fill="#000" text-anchor="start" textLength="70.0722" lengthAdjust="spacingAndGlyphs" >19 Sep 2025</text>
<text x="99" y="592" font-size="12.5" fill="#000" text-anchor="start" textLength="60.432" lengthAdjust="spacingAndGlyphs" >3 Oct 2025</text>
<text x="195" y="592" font-size="12.5" fill="#000" text-anchor="start" textLength="67.3041" lengthAdjust="spacingAndGlyphs" >17 Oct 2025</text>
<text x="291" y="592" font-size="12.5" fill="#000" text-anchor="start" textLength="67.3041" lengthAdjust="spacingAndGlyphs" >31 Oct 2025</text>
<text x="387" y="592" font-size="12.5" fill="#000" text-anchor="start" textLength="70.0722" lengthAdjust="spacingAndGlyphs" >14 Nov 2025</text>
<text x="483" y="592" font-size="12.5" fill="#000" text-anchor="start" textLength="70.0722" lengthAdjust="spacingAndGlyphs" >28 Nov 2025</text>
<text x="579" y="592" font-size="12.5" fill="#000" text-anchor="start" textLength="70.0722" lengthAdjust="spacingAndGlyphs" >12 Dec 2025</text>
<text x="675" y="592" font-size="12.5" fill="#000" text-anchor="start" textLength="70.0722" lengthAdjust="spacingAndGlyphs" >26 Dec 2025</text>
<text x="771" y="592" font-size="12.5" fill="#000" text-anchor="start" textLength="61.1402" lengthAdjust="spacingAndGlyphs" >9 Jan 2026</text>
<text x="867" y="592" font-size="12.5" fill="#000" text-anchor="start" textLength="68.0122" lengthAdjust="spacingAndGlyphs" >23 Jan 2026</text>
</svg>
</body></html>
